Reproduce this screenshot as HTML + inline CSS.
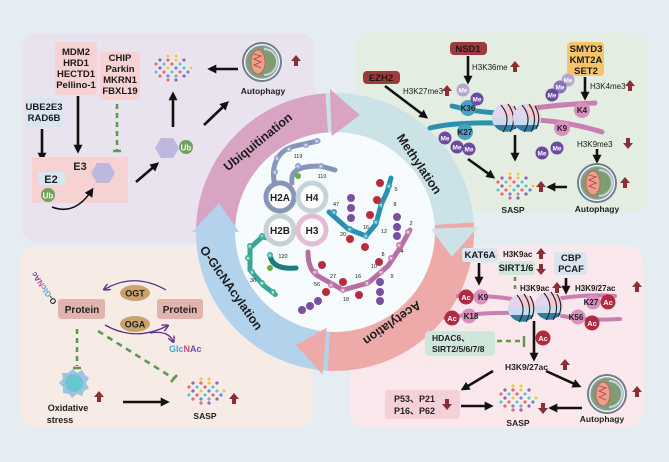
<!DOCTYPE html>
<html><head><meta charset="utf-8"><style>
html,body{margin:0;padding:0;background:#e5ecf2;}
svg{display:block;font-family:"Liberation Sans",Arial,sans-serif;}
.b{font-weight:bold;font-size:9.5px;fill:#1a1a1a;text-anchor:middle;}
.s{font-size:8px;fill:#1a1a1a;}
.bd{font-size:4px;fill:#fff;text-anchor:middle;font-weight:bold;}
.n{font-size:5.5px;fill:#222;text-anchor:middle;}
.ring{font-weight:bold;font-size:12.5px;fill:#1e1e1e;text-anchor:middle;}
</style></head><body>
<svg width="669" height="462" viewBox="0 0 669 462" xmlns="http://www.w3.org/2000/svg">
<defs>
<marker id="ah" viewBox="0 0 10 10" refX="7" refY="5" markerWidth="9" markerHeight="9" markerUnits="userSpaceOnUse" orient="auto"><path d="M0,0 L10,5 L0,10 z" fill="#111"/></marker>
<marker id="ahp" viewBox="0 0 10 10" refX="7" refY="5" markerWidth="7" markerHeight="7" markerUnits="userSpaceOnUse" orient="auto"><path d="M0,0 L10,5 L0,10" fill="none" stroke="#5b2d8a" stroke-width="2"/></marker>
<g id="up"><path d="M0,-6 L5,0 L2,0 L2,5 L-2,5 L-2,0 L-5,0Z" fill="#8b2f35"/></g>
<g id="sasp">
<g stroke="#fff" stroke-width="0.6">
<circle cx="-6" cy="-12" r="2.1" fill="#f0c35a"/><circle cx="2" cy="-12" r="2.1" fill="#f0c35a"/>
<circle cx="-14" cy="-8" r="2.1" fill="#9b6bb0"/><circle cx="-6" cy="-8" r="2.1" fill="#e2736f"/><circle cx="2" cy="-8" r="2.1" fill="#f0c35a"/><circle cx="10" cy="-8" r="2.1" fill="#9b6bb0"/>
<circle cx="-18" cy="-4" r="2.1" fill="#e2736f"/><circle cx="-10" cy="-4" r="2.1" fill="#6cc3c9"/><circle cx="-2" cy="-4" r="2.1" fill="#e2736f"/><circle cx="6" cy="-4" r="2.1" fill="#6cc3c9"/>
<circle cx="-14" cy="0" r="2.1" fill="#9b6bb0"/><circle cx="-6" cy="0" r="2.1" fill="#f0c35a"/><circle cx="2" cy="0" r="2.1" fill="#6f8fcf"/><circle cx="10" cy="0" r="2.1" fill="#6cc3c9"/><circle cx="17" cy="0" r="2.1" fill="#f0c35a"/>
<circle cx="-18" cy="4" r="2.1" fill="#6cc3c9"/><circle cx="-10" cy="4" r="2.1" fill="#e2736f"/><circle cx="-2" cy="4" r="2.1" fill="#6cc3c9"/><circle cx="6" cy="4" r="2.1" fill="#e2736f"/><circle cx="14" cy="4" r="2.1" fill="#6f8fcf"/>
<circle cx="-14" cy="8" r="2.1" fill="#e2736f"/><circle cx="-6" cy="8" r="2.1" fill="#6f8fcf"/><circle cx="2" cy="8" r="2.1" fill="#a0a0a8"/><circle cx="10" cy="8" r="2.1" fill="#9b6bb0"/>
<circle cx="-6" cy="12" r="2.1" fill="#e2736f"/><circle cx="2" cy="12" r="2.1" fill="#9b6bb0"/>
</g></g>
<g id="mito">
<circle r="19" fill="#fff" stroke="#6f8088" stroke-width="2"/>
<circle r="16" fill="#7f9c73" stroke="#8fa0aa" stroke-width="1.5"/>
<path d="M2,-13 A13,13 0 0 1 2,13" fill="none" stroke="#c9d6de" stroke-width="2"/>
<ellipse cx="-4" cy="0" rx="7" ry="12" fill="#e9a08c" stroke="#c65a55" stroke-width="0.8"/>
<path d="M-8,-8 L-1,-6 L-8,-3 L-1,0 L-8,3 L-1,6" fill="none" stroke="#b8404a" stroke-width="0.9"/>
</g>
<g id="nuc">
<circle r="14" fill="#f3c9d2"/>
<path d="M-14,0 A14,14 0 0 0 14,0 Z" fill="#c9dcef"/>
<path d="M-12,7 A14,14 0 0 0 12,7 Z" fill="#2f7ea0"/>
<path d="M0,-14 L0,0 L-14,0 A14,14 0 0 1 0,-14Z" fill="#e3d5ec"/>
<path d="M-5,-13 Q6,0 -3,14 M2,-14 Q12,0 4,14 M8,-12 Q15,0 9,11" fill="none" stroke="#222" stroke-width="1.1"/>
</g>
</defs>

<rect x="22" y="33" width="293" height="210" rx="16" fill="#e8e3ef"/>
<rect x="355" y="33" width="292" height="180" rx="16" fill="#e4ede1"/>
<rect x="20" y="246" width="293" height="182" rx="16" fill="#f7ebe5"/>
<rect x="350" y="246" width="293" height="182" rx="16" fill="#fbe8ec"/>

<circle cx="335" cy="232" r="100" fill="#f6fbfd"/>
<g fill="none" stroke-width="39">
<path d="M215.5,232 A119.5,119.5 0 0 1 330.8,112.6" stroke="#d9a3c4"/>
<path d="M326.7,112.8 A119.5,119.5 0 0 1 454.4,227.8" stroke="#cbe2e6"/>
<path d="M454.2,223.7 A119.5,119.5 0 0 1 324.6,351" stroke="#eeaaa8"/>
<path d="M328.7,351.3 A119.5,119.5 0 0 1 215.5,232" stroke="#b3d3ec"/>
</g>
<polygon points="331.6,136.1 330,89.1 359.8,115.1" fill="#d9a3c4"/>
<polygon points="430.9,228.6 477.9,227 451.9,256.8" fill="#cbe2e6"/>
<polygon points="326.6,327.6 322.5,374.5 296.1,345" fill="#eeaaa8"/>
<polygon points="239,232 192,232 219,203.1" fill="#b3d3ec"/>
<text class="ring" transform="translate(258,142) rotate(-39)" dy="4">Ubiquitination</text>
<text class="ring" transform="translate(419,164) rotate(56)" dy="4">Methylation</text>
<text class="ring" transform="translate(392,323) rotate(145)" dy="4">Acetylation</text>
<text class="ring" transform="translate(231,288) rotate(55)" dy="4">O-GlcNAcylation</text>

<g fill="none" stroke-linecap="round">
<path d="M275,186 C270,165 278,150 295,146 L318,141" stroke="#8795b8" stroke-width="5"/>
<path d="M292,183 C290,170 300,166 320,166 L335,170" stroke="#8795b8" stroke-width="5"/>
<path d="M329,212 L348,229 L366,236 L376,224 L381,205 L387,192 L391,178" stroke="#2b8fb0" stroke-width="5"/>
<path d="M308,252 Q308,270 318,276 L343,290 L368,283 L388,266 L400,248 L410,230" stroke="#b76ea1" stroke-width="5"/>
<path d="M278,240 L262,237 L250,248 L250,270 L263,285 L276,295" stroke="#3aa596" stroke-width="5" stroke-dasharray="6 1"/>
<path d="M270,255 Q272,270 296,268" stroke="#1c7b7f" stroke-width="5"/>
</g>
<circle cx="280" cy="197" r="14" fill="#fff" stroke="#8795b8" stroke-width="5"/>
<circle cx="312" cy="197" r="14" fill="#fff" stroke="#c6d4da" stroke-width="5"/>
<circle cx="280" cy="230" r="14" fill="#fff" stroke="#c7d0d3" stroke-width="5"/>
<circle cx="312" cy="230" r="14" fill="#fff" stroke="#e6bcd4" stroke-width="5"/>
<g font-weight="bold" font-size="10" text-anchor="middle" fill="#222">
<text x="280" y="201">H2A</text><text x="312" y="201">H4</text><text x="280" y="234">H2B</text><text x="312" y="234">H3</text></g>
<g fill="#8fa3d3"><circle cx="275" cy="172" r="3"/><circle cx="277" cy="158" r="3"/><circle cx="289" cy="149" r="3"/><circle cx="306" cy="145" r="3"/><circle cx="317" cy="141" r="3"/><circle cx="298" cy="166" r="3"/><circle cx="321" cy="166" r="3"/></g>
<g fill="#3b9fc2"><circle cx="334" cy="212" r="3"/><circle cx="350" cy="229" r="3"/><circle cx="366" cy="236" r="3"/><circle cx="376" cy="222" r="3"/><circle cx="381" cy="205" r="3"/><circle cx="389" cy="186" r="3"/></g>
<g fill="#c97fb0"><circle cx="315" cy="272" r="3"/><circle cx="331" cy="285" r="3"/><circle cx="343" cy="290" r="3"/><circle cx="367" cy="283" r="3"/><circle cx="381" cy="272" r="3"/><circle cx="391" cy="258" r="3"/><circle cx="399" cy="245" r="3"/><circle cx="408" cy="232" r="3"/></g>
<g fill="#45b09f"><circle cx="262" cy="236" r="3"/><circle cx="250" cy="246" r="3"/><circle cx="248" cy="258" r="3"/><circle cx="252" cy="272" r="3"/><circle cx="262" cy="283" r="3"/><circle cx="273" cy="292" r="3"/><circle cx="270" cy="255" r="3"/></g>
<g fill="#6cae3c"><circle cx="298" cy="176" r="3"/><circle cx="270" cy="268" r="3"/></g>
<g class="bd"><text x="275" y="173.5">S</text><text x="277" y="159.5">S</text><text x="289" y="150.5">S</text><text x="306" y="146.5">K</text><text x="317" y="142.5">K</text><text x="298" y="167.5">K</text><text x="321" y="167.5">K</text>
<text x="334" y="213.5">S</text><text x="350" y="230.5">K</text><text x="366" y="237.5">K</text><text x="376" y="223.5">K</text><text x="381" y="206.5">K</text><text x="389" y="187.5">K</text>
<text x="315" y="273.5">K</text><text x="331" y="286.5">K</text><text x="343" y="291.5">R</text><text x="367" y="284.5">S</text><text x="381" y="273.5">K</text><text x="391" y="259.5">R</text><text x="399" y="246.5">K</text><text x="408" y="233.5">R</text>
<text x="262" y="237.5">T</text><text x="250" y="247.5">K</text><text x="248" y="259.5">R</text><text x="252" y="273.5">S</text><text x="262" y="284.5">R</text><text x="273" y="293.5">S</text><text x="270" y="256.5">K</text></g>
<g class="n"><text x="298" y="158">119</text><text x="322" y="178">110</text><text x="336" y="206">47</text><text x="343" y="236">20</text><text x="366" y="229">16</text><text x="384" y="233">12</text><text x="395" y="206">8</text><text x="396" y="191">5</text>
<text x="317" y="286">56</text><text x="333" y="278">27</text><text x="346" y="301">18</text><text x="358" y="278">16</text><text x="374" y="268">10</text><text x="392" y="278">9</text><text x="383" y="256">8</text><text x="402" y="253">4</text><text x="411" y="225">2</text><text x="253" y="282">36</text><text x="283" y="258">120</text></g>
<g fill="#b92c3f"><circle cx="380" cy="183" r="4"/><circle cx="377" cy="200" r="4"/><circle cx="370" cy="215" r="4"/><circle cx="350" cy="239" r="4"/><circle cx="365" cy="247" r="4"/><circle cx="322" cy="265" r="4"/><circle cx="343" cy="282" r="4"/><circle cx="326" cy="292" r="4"/><circle cx="359" cy="295" r="4"/><circle cx="379" cy="262" r="4"/></g>
<g fill="#7b4fa4"><circle cx="351" cy="198" r="4"/><circle cx="351" cy="208" r="4"/><circle cx="351" cy="218" r="4"/><circle cx="397" cy="217" r="4"/><circle cx="397" cy="227" r="4"/><circle cx="397" cy="236" r="4"/><circle cx="302" cy="310" r="4"/><circle cx="310" cy="306" r="4"/><circle cx="318" cy="301" r="4"/><circle cx="380" cy="282" r="4"/><circle cx="380" cy="292" r="4"/><circle cx="380" cy="301" r="4"/></g>

<rect x="55" y="42" width="42" height="53" rx="4" fill="#f6d2d2"/>
<text class="b" x="76" y="55">MDM2</text><text class="b" x="76" y="66">HRD1</text><text class="b" x="76" y="77">HECTD1</text><text class="b" x="76" y="88">Pellino-1</text>
<rect x="100" y="52" width="40" height="48" rx="4" fill="#f6d2d2"/>
<text class="b" x="120" y="61">CHIP</text><text class="b" x="120" y="72">Parkin</text><text class="b" x="120" y="83">MKRN1</text><text class="b" x="120" y="94">FBXL19</text>
<rect x="25" y="98" width="38" height="29" rx="3" fill="#d9e6f2"/>
<text class="b" x="44" y="110">UBE2E3</text><text class="b" x="44" y="121">RAD6B</text>
<g stroke="#111" stroke-width="2.6" fill="none" marker-end="url(#ah)">
<line x1="42" y1="129" x2="42" y2="159"/>
<line x1="78" y1="96" x2="78" y2="151"/>
<line x1="136" y1="182" x2="157" y2="164"/>
<line x1="173" y1="127" x2="173" y2="94"/>
<line x1="204" y1="125" x2="227" y2="103"/>
<line x1="238" y1="69" x2="210" y2="69"/>
</g>
<line x1="117" y1="104" x2="117" y2="150" stroke="#5e9a4e" stroke-width="2.6" stroke-dasharray="5 4"/>
<line x1="113" y1="151" x2="121" y2="151" stroke="#5e9a4e" stroke-width="2.5"/>
<rect x="32" y="157" width="96" height="46" fill="#f6d2d2"/>
<text x="80" y="170" font-size="11" font-weight="bold" fill="#222" text-anchor="middle">E3</text>
<rect x="38" y="172" width="27" height="13" fill="#d9e6f2"/>
<text x="51" y="183" font-size="11" font-weight="bold" fill="#222" text-anchor="middle">E2</text>
<circle cx="48" cy="195" r="7" fill="#6da35d"/><text x="48" y="198.5" font-size="8" font-weight="bold" fill="#fff" text-anchor="middle">Ub</text>
<polygon points="115,173 109,183 97,183 91,173 97,163 109,163" fill="#bdb8de"/>
<path d="M52,207 Q75,216 92,190" fill="none" stroke="#111" stroke-width="1.5" marker-end="url(#ah)"/>
<polygon points="179,148 173,158 161,158 155,148 161,138 173,138" fill="#bdb8de"/>
<circle cx="186" cy="147" r="7" fill="#6da35d"/><text x="186" y="150.5" font-size="8" font-weight="bold" fill="#fff" text-anchor="middle">Ub</text>
<use href="#sasp" x="174" y="68"/>
<use href="#mito" x="262" y="62"/>
<text x="263" y="94" font-size="8.5" font-weight="bold" fill="#222" text-anchor="middle">Autophagy</text>
<use href="#up" x="296" y="61"/>

<rect x="450" y="42" width="37" height="13" rx="4" fill="#a0393d"/><text class="b" x="468" y="52">NSD1</text>
<rect x="363" y="71" width="37" height="13" rx="4" fill="#a0393d"/><text class="b" x="381" y="81">EZH2</text>
<rect x="567" y="42" width="37" height="34" rx="4" fill="#f6c46a"/>
<text class="b" x="586" y="52">SMYD3</text><text class="b" x="586" y="63">KMT2A</text><text class="b" x="586" y="74">SET2</text>
<g stroke="#111" stroke-width="2.6" fill="none" marker-end="url(#ah)">
<line x1="468" y1="56" x2="468" y2="82"/>
<line x1="385" y1="86" x2="426" y2="117"/>
<line x1="585" y1="77" x2="585" y2="98"/>
<line x1="515" y1="135" x2="515" y2="159"/>
<line x1="468" y1="159" x2="493" y2="177"/>
<line x1="567" y1="187" x2="549" y2="187"/>
<line x1="597" y1="149" x2="597" y2="161"/>
</g>
<text class="s" x="472" y="70">H3K36me</text><use href="#up" x="515" y="67"/>
<text class="s" x="403" y="94">H3K27me3</text><use href="#up" x="447" y="91"/>
<text class="s" x="590" y="89">H3K4me3</text><use href="#up" x="630" y="86"/>
<text class="s" x="577" y="147">H3K9me3</text><use href="#up" x="628" y="143" transform="rotate(180 628 143)"/>
<g fill="none" stroke-width="5" stroke-linecap="round">
<path d="M452,106 Q475,112 498,113" stroke="#2f8fae"/>
<path d="M430,128 Q455,122 498,123" stroke="#2f8fae"/>
<path d="M535,108 Q565,104 595,103" stroke="#c97fb0"/>
<path d="M537,120 Q570,122 602,132" stroke="#c97fb0"/>
</g>
<use href="#nuc" x="506" y="118"/><use href="#nuc" x="527" y="118"/>
<circle cx="468" cy="108" r="8" fill="#4aa0c4"/><text x="468" y="111" font-size="8" font-weight="bold" text-anchor="middle" fill="#222">K36</text>
<circle cx="465" cy="132" r="8" fill="#4aa0c4"/><text x="465" y="135" font-size="8" font-weight="bold" text-anchor="middle" fill="#222">K27</text>
<circle cx="582" cy="110" r="8" fill="#d98fbf"/><text x="582" y="113" font-size="8" font-weight="bold" text-anchor="middle" fill="#222">K4</text>
<circle cx="562" cy="128" r="8" fill="#d98fbf"/><text x="562" y="131" font-size="8" font-weight="bold" text-anchor="middle" fill="#222">K9</text>
<g><circle cx="463" cy="90" r="6.5" fill="#b5a6cf"/><circle cx="477" cy="99" r="6.5" fill="#6a4ba0"/>
<circle cx="445" cy="138" r="6.5" fill="#6a4ba0"/><circle cx="457" cy="147" r="6.5" fill="#6a4ba0"/><circle cx="469" cy="149" r="6.5" fill="#6a4ba0"/>
<circle cx="568" cy="80" r="6.5" fill="#b5a6cf"/><circle cx="560" cy="87" r="6.5" fill="#8b70b8"/><circle cx="552" cy="95" r="6.5" fill="#6a4ba0"/>
<circle cx="542" cy="153" r="6.5" fill="#6a4ba0"/><circle cx="557" cy="148" r="6.5" fill="#6a4ba0"/></g>
<g font-size="6.5" font-weight="bold" fill="#fff" text-anchor="middle"><text x="463" y="92.5">Me</text><text x="477" y="101.5">Me</text><text x="445" y="140.5">Me</text><text x="457" y="149.5">Me</text><text x="469" y="151.5">Me</text><text x="568" y="82.5">Me</text><text x="560" y="89.5">Me</text><text x="552" y="97.5">Me</text><text x="542" y="155.5">Me</text><text x="557" y="150.5">Me</text></g>
<use href="#sasp" x="516" y="186"/>
<text x="513" y="213" font-size="8.5" font-weight="bold" fill="#222" text-anchor="middle">SASP</text>
<use href="#up" x="541" y="187"/>
<use href="#mito" x="597" y="183"/>
<text x="597" y="212" font-size="8.5" font-weight="bold" fill="#222" text-anchor="middle">Autophagy</text>
<use href="#up" x="625" y="183"/>

<rect x="58" y="299" width="47" height="20" rx="3" fill="#e2b4ae"/><text x="82" y="313" font-size="10" font-weight="bold" fill="#222" text-anchor="middle">Protein</text>
<rect x="157" y="299" width="46" height="20" rx="3" fill="#e2b4ae"/><text x="180" y="313" font-size="10" font-weight="bold" fill="#222" text-anchor="middle">Protein</text>
<text transform="translate(57,302) rotate(-125)" font-size="8" font-weight="bold"><tspan fill="#222">O-</tspan><tspan fill="#4aa3d8">Glc</tspan><tspan fill="#d84a7a">N</tspan><tspan fill="#7b4fa4">Ac</tspan></text>
<path d="M166,290 Q135,272 105,289" fill="none" stroke="#5b2d8a" stroke-width="1.3" marker-end="url(#ahp)"/>
<path d="M105,325 Q135,342 167,326" fill="none" stroke="#5b2d8a" stroke-width="1.3" marker-end="url(#ahp)"/>
<path d="M150,333 Q168,330 173,341" fill="none" stroke="#5b2d8a" stroke-width="1.3" marker-end="url(#ahp)"/>
<ellipse cx="135" cy="293" rx="15" ry="8" fill="#c9a36a"/><text x="135" y="296.5" font-size="9" font-weight="bold" fill="#222" text-anchor="middle">OGT</text>
<ellipse cx="135" cy="324" rx="15" ry="8" fill="#c9a36a"/><text x="135" y="327.5" font-size="9" font-weight="bold" fill="#222" text-anchor="middle">OGA</text>
<text x="169" y="352" font-size="9" font-weight="bold"><tspan fill="#4aa3d8">Glc</tspan><tspan fill="#d84a7a">N</tspan><tspan fill="#7b4fa4">Ac</tspan></text>
<g stroke="#5e9a4e" stroke-width="2.6" fill="none">
<line x1="77" y1="329" x2="77" y2="366" stroke-dasharray="5 4"/><line x1="73" y1="368" x2="81" y2="368"/>
<line x1="98" y1="331" x2="173" y2="378" stroke-dasharray="6 5"/><line x1="171" y1="382" x2="177" y2="375"/>
</g>
<path d="M73,369 L77,373 L82,370 L85,375 L89,378 L86,383 L89,388 L84,391 L82,396 L77,394 L72,398 L69,394 L63,393 L63,387 L59,383 L63,379 L62,373 L68,373Z" fill="#9ec3e0"/>
<circle cx="74" cy="383" r="9" fill="#68c6cf"/>
<text x="68" y="411" font-size="9" font-weight="bold" fill="#222" text-anchor="middle">Oxidative</text>
<text x="60" y="423" font-size="9" font-weight="bold" fill="#222" text-anchor="middle">stress</text>
<use href="#up" x="99" y="397"/>
<line x1="123" y1="402" x2="167" y2="402" stroke="#111" stroke-width="2.6" marker-end="url(#ah)"/>
<use href="#sasp" x="207" y="391"/>
<text x="205" y="419" font-size="8.5" font-weight="bold" fill="#222" text-anchor="middle">SASP</text>
<use href="#up" x="234" y="399"/>

<rect x="462" y="248" width="36" height="14" rx="3" fill="#d9e6f2"/><text class="b" x="480" y="258">KAT6A</text>
<text class="s" x="503" y="257" font-weight="bold">H3K9ac</text><use href="#up" x="541" y="254"/>
<rect x="498" y="261" width="37" height="14" rx="3" fill="#cfe6da"/><text class="b" x="516" y="271" font-weight="normal">SIRT1/6</text>
<use href="#up" x="541" y="269" transform="rotate(180 541 269)"/>
<rect x="554" y="252" width="33" height="23" rx="3" fill="#d9e6f2"/><text class="b" x="571" y="261">CBP</text><text class="b" x="571" y="272">PCAF</text>
<g stroke="#111" stroke-width="2.6" fill="none" marker-end="url(#ah)">
<line x1="479" y1="263" x2="479" y2="283"/>
<line x1="566" y1="278" x2="566" y2="292"/>
<line x1="534" y1="321" x2="534" y2="359"/>
<line x1="493" y1="371" x2="463" y2="389"/>
<line x1="546" y1="371" x2="579" y2="386"/>
<line x1="461" y1="406" x2="491" y2="406"/>
<line x1="582" y1="408" x2="551" y2="408"/>
</g>
<line x1="515" y1="277" x2="515" y2="290" stroke="#5e9a4e" stroke-width="2.6" stroke-dasharray="4 4"/>
<text class="s" x="520" y="291" font-weight="bold">H3K9ac</text><use href="#up" x="557" y="288"/>
<text class="s" x="575" y="291" font-weight="bold">H3K9/27ac</text><use href="#up" x="637" y="287"/>
<g fill="none" stroke-width="4" stroke-linecap="round" stroke="#c97fb0">
<path d="M458,296 Q485,295 512,299"/><path d="M445,318 Q480,312 512,313"/>
<path d="M562,298 Q590,294 615,296"/><path d="M562,316 Q590,321 620,319"/>
</g>
<use href="#nuc" x="522" y="308"/><use href="#nuc" x="549" y="306"/>
<g fill="#d98fbf"><circle cx="481" cy="297" r="7.5"/><circle cx="469" cy="316" r="7.5"/><circle cx="593" cy="302" r="7.5"/><circle cx="578" cy="317" r="7.5"/></g>
<g fill="#b02a40"><circle cx="466" cy="297" r="7.5"/><circle cx="452" cy="318" r="7.5"/><circle cx="608" cy="302" r="7.5"/><circle cx="592" cy="323" r="7.5"/><circle cx="543" cy="338" r="7.5"/></g>
<g font-size="8" font-weight="bold" text-anchor="middle" fill="#222"><text x="483" y="300">K9</text><text x="471" y="319">K18</text><text x="591" y="305">K27</text><text x="576" y="320">K56</text></g>
<g font-size="7.5" font-weight="bold" text-anchor="middle" fill="#fff"><text x="466" y="300">Ac</text><text x="452" y="321">Ac</text><text x="608" y="305">Ac</text><text x="592" y="326">Ac</text><text x="543" y="341">Ac</text></g>
<rect x="425" y="331" width="70" height="25" rx="4" fill="#cfe6da"/>
<text x="432" y="341" font-size="8.5" font-weight="bold" fill="#222">HDAC6、</text>
<text x="432" y="352" font-size="8.5" font-weight="bold" fill="#222">SIRT2/5/6/7/8</text>
<line x1="497" y1="341" x2="521" y2="341" stroke="#5e9a4e" stroke-width="2.6" stroke-dasharray="5 4"/>
<line x1="524" y1="336" x2="524" y2="347" stroke="#5e9a4e" stroke-width="2.5"/>
<text x="505" y="370" font-size="8.5" font-weight="bold" fill="#222">H3K9/27ac</text><use href="#up" x="565" y="365"/>
<rect x="385" y="390" width="75" height="29" rx="4" fill="#f6d0d8"/>
<text x="394" y="402" font-size="9" font-weight="bold" fill="#222">P53、P21</text>
<text x="394" y="414" font-size="9" font-weight="bold" fill="#222">P16、P62</text>
<use href="#up" x="447" y="404" transform="rotate(180 447 404)"/>
<use href="#sasp" x="519" y="398"/>
<text x="518" y="426" font-size="8.5" font-weight="bold" fill="#222" text-anchor="middle">SASP</text>
<use href="#up" x="543" y="408" transform="rotate(180 543 408)"/>
<use href="#mito" x="607" y="394"/>
<text x="602" y="422" font-size="8.5" font-weight="bold" fill="#222" text-anchor="middle">Autophagy</text>
<use href="#up" x="637" y="392"/>
</svg>
</body></html>
